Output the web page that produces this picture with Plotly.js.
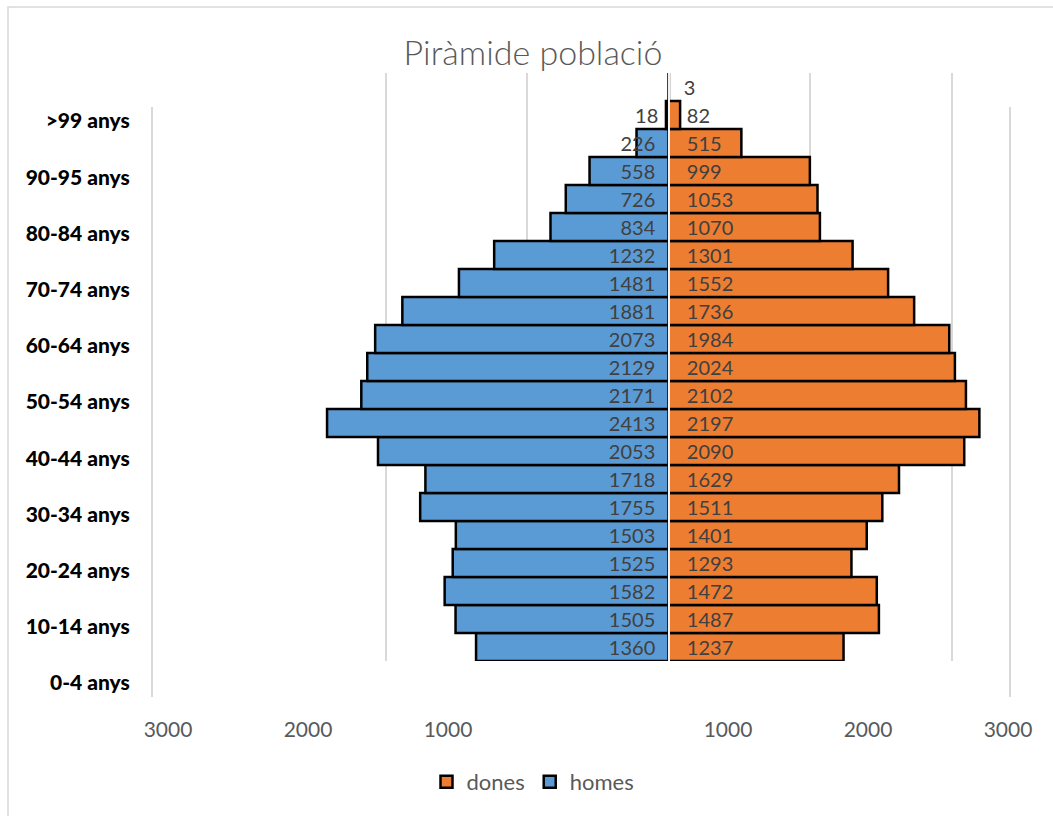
<!DOCTYPE html>
<html>
<head>
<meta charset="utf-8">
<script src="https://cdn.plot.ly/plotly-3.0.1.min.js"></script>
<style>html,body{margin:0;padding:0;background:#fff;}</style>
</head>
<body>
<div id="chart" style="width:1053px;height:816px;"></div>
<script>
// Age groups (bottom to top) for the bars
const ageGroups = ['0-4','5-9','10-14','15-19','20-24','25-29','30-34','35-39','40-44','45-49',
  '50-54','55-59','60-64','65-69','70-74','75-79','80-84','85-89','90-94','95-99','>99'];
// homes (men) and dones (women)
const homes = [1360,1505,1582,1525,1503,1755,1718,2053,2413,2171,2129,2073,1881,1481,1232,834,726,558,226,18,null];
const dones = [1237,1487,1472,1293,1401,1511,1629,2090,2197,2102,2024,1984,1736,1552,1301,1070,1053,999,515,82,3];
// category tick labels shown on the left
const axisLabels = ['0-4 anys','10-14 anys','20-24 anys','30-34 anys','40-44 anys','50-54 anys',
  '60-64 anys','70-74 anys','80-84 anys','90-95 anys','>99 anys'];
const axisLabelPos = [0,2,4,6,8,10,12,14,16,18,20];
// value axis tick labels
const xTickVals = [-3000,-2000,-1000,1000,2000,3000];
const xTickText = ['3000','2000','1000','1000','2000','3000'];

const W = 1053, H = 816;
const px = v => v / W, py = v => 1 - v / H;
const NB = n => '\u00a0'.repeat(n);

const BLUE = '#5B9BD5', ORANGE = '#ED7D31', LBL = '#404040', GRAY = '#595959';
const textCommon = {
  textposition: 'inside', insidetextanchor: 'start', constraintext: 'none', textangle: 0,
  textfont: {family: 'Lato, sans-serif', size: 20, color: LBL},
  insidetextfont: {family: 'Lato, sans-serif', size: 20, color: LBL},
  outsidetextfont: {family: 'Lato, sans-serif', size: 20, color: LBL},
  hoverinfo: 'skip'
};

const traces = [
  Object.assign({
    type: 'bar', orientation: 'h', name: 'dones',
    y: ageGroups, x: dones,
    text: dones.map(v => v == null ? '' : NB(3) + v),
    marker: {color: ORANGE, line: {color: '#000', width: 2.5}},
    xaxis: 'x', yaxis: 'y'
  }, textCommon),
  Object.assign({
    type: 'bar', orientation: 'h', name: 'homes',
    y: ageGroups, x: homes.map(v => v == null ? null : -v),
    text: homes.map(v => v == null ? '' : v + NB(2)),
    marker: {color: BLUE, line: {color: '#000', width: 2.5}},
    xaxis: 'x', yaxis: 'y'
  }, textCommon),
  {
    type: 'scatter', mode: 'markers', x: [0], y: [0], xaxis: 'x2', yaxis: 'y2',
    marker: {opacity: 0}, showlegend: false, hoverinfo: 'skip'
  }
];

const x0A = 668.5, scaleA = 0.1415;   // px per unit, bar subplot
const x0B = 588, scaleB = 0.140;      // px per unit, label subplot
const L = 153, R = 1009;

const layout = {
  width: W, height: H, autosize: false,
  margin: {l: 0, r: 0, t: 0, b: 0},
  paper_bgcolor: '#fff', plot_bgcolor: 'rgba(0,0,0,0)',
  barmode: 'overlay', bargap: 0,
  showlegend: true,
  title: {
    text: 'Piràmide població', x: px(533), xanchor: 'center', xref: 'paper',
    y: py(53), yanchor: 'middle', yref: 'paper',
    font: {family: 'Lato, sans-serif', size: 34, color: GRAY, weight: 300}
  },
  legend: {
    orientation: 'h', x: px(533), xanchor: 'center', y: py(782), yanchor: 'middle',
    font: {family: 'Lato, sans-serif', size: 22, color: GRAY},
    traceorder: 'normal', itemwidth: 30
  },
  xaxis: {
    domain: [px(L), px(R)], anchor: 'y',
    range: [-(x0A - L) / scaleA, (R - x0A) / scaleA],
    tickvals: [-2000, -1000, 1000, 2000], showticklabels: false, ticks: '',
    showgrid: true, gridcolor: '#d9d9d9', gridwidth: 2, zeroline: false, showline: false,
    fixedrange: true
  },
  yaxis: {
    domain: [py(661), py(73)], anchor: 'free', position: px(x0A),
    type: 'category', categoryarray: ageGroups, range: [-0.5, 20.5],
    showticklabels: false, ticks: '', showgrid: false, zeroline: false,
    showline: true, linecolor: '#f2f2f2', linewidth: 2, layer: 'above traces',
    fixedrange: true
  },
  xaxis2: {
    domain: [px(L), px(R)], anchor: 'y2',
    range: [-(x0B - L) / scaleB, (R - x0B) / scaleB],
    tickvals: xTickVals, ticktext: xTickText, ticks: '', ticklabelstandoff: 18,
    tickfont: {family: 'Lato, sans-serif', size: 21, color: GRAY},
    showgrid: false, zeroline: false, showline: false, fixedrange: true
  },
  yaxis2: {
    domain: [py(697), py(107)], anchor: 'x2',
    range: [-0.5, 20.5], tickvals: axisLabelPos, ticktext: axisLabels, ticks: '',
    ticklabelstandoff: 17,
    tickfont: {family: 'Lato, sans-serif', size: 21, color: '#000', weight: 900},
    showgrid: false, zeroline: false,
    showline: true, mirror: true, linecolor: '#d9d9d9', linewidth: 2, fixedrange: true
  },
  shapes: [{
    type: 'rect', xref: 'paper', yref: 'paper',
    x0: px(8), x1: px(1070), y0: py(7), y1: py(840),
    line: {color: '#d9d9d9', width: 1.5}, fillcolor: 'rgba(0,0,0,0)'
  }]
};

Plotly.newPlot('chart', traces, layout, {staticPlot: true, displayModeBar: false});
</script>
</body>
</html>
